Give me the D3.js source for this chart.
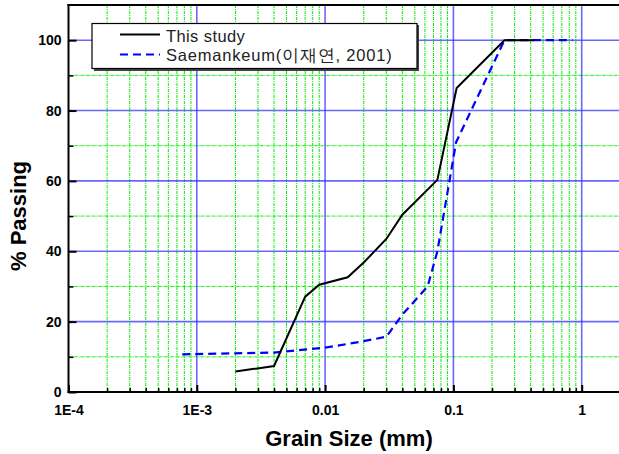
<!DOCTYPE html>
<html><head><meta charset="utf-8">
<script src="https://cdn.jsdelivr.net/npm/d3@7"></script>
<style>body{margin:0;background:#fff}svg{display:block}</style>
</head><body>
<script>
const seriesNames = ["This study", "Saemankeum(이재연, 2001)"];
const thisStudy = [
  [0.002, 5.8], [0.004, 7.4], [0.007, 27.1], [0.009, 30.5], [0.015, 32.6],
  [0.02, 36.8], [0.03, 43.5], [0.04, 50.4], [0.075, 60.3], [0.106, 86.4],
  [0.25, 100], [0.425, 100]
];
const saemankeum = [
  [0.00077, 10.7], [0.004, 11.2], [0.01, 12.6], [0.019, 14.3], [0.03, 15.7],
  [0.04, 22], [0.063, 30], [0.075, 40], [0.105, 71], [0.25, 100], [0.85, 100]
];
const xTickValues = [1e-4, 1e-3, 0.01, 0.1, 1];
const xTickLabels = ["1E-4", "1E-3", "0.01", "0.1", "1"];
const yTickValues = [0, 20, 40, 60, 80, 100];
const yMinorValues = [10, 30, 50, 70, 90];

(function () {
const W = 619, H = 454;
const svg = d3.select("body").append("svg").attr("width", W).attr("height", H);
const x = d3.scaleLog().domain([1e-4, 1]).range([68.5, 581.7]);
const y = d3.scaleLinear().domain([0, 110]).range([392, 5]);
const pL = 68.5, pR = W, pT = 5, pB = 392;

svg.append("defs").append("clipPath").attr("id", "clip")
  .append("rect").attr("x", pL).attr("y", pT).attr("width", pR - pL).attr("height", pB - pT);

const g = svg.append("g").attr("clip-path", "url(#clip)");

const xMinor = [];
for (const d of [1e-4, 1e-3, 0.01, 0.1, 1]) for (let k = 2; k <= 9; k++) xMinor.push(d * k);

const font = "'Liberation Sans', Arial, sans-serif";

g.selectAll(".gx").data(xMinor).enter().append("line")
  .attr("x1", d => x(d)).attr("x2", d => x(d)).attr("y1", pT).attr("y2", pB)
  .attr("stroke", "#00f000").attr("stroke-width", 1).attr("stroke-dasharray", "3,1,1,1");
g.selectAll(".gy").data(yMinorValues).enter().append("line")
  .attr("x1", pL).attr("x2", pR).attr("y1", d => y(d)).attr("y2", d => y(d))
  .attr("stroke", "#00f000").attr("stroke-width", 1).attr("stroke-dasharray", "3,1,1,1");

g.selectAll(".bx").data(xTickValues.slice(1)).enter().append("line")
  .attr("x1", d => x(d)).attr("x2", d => x(d)).attr("y1", pT).attr("y2", pB)
  .attr("stroke", "#2a2aff").attr("stroke-opacity", 0.7).attr("stroke-width", 1.6);
g.selectAll(".by").data(yTickValues.slice(1)).enter().append("line")
  .attr("x1", pL).attr("x2", pR).attr("y1", d => y(d)).attr("y2", d => y(d))
  .attr("stroke", "#2a2aff").attr("stroke-opacity", 0.7).attr("stroke-width", 1.6);

const line = d3.line().x(d => x(d[0])).y(d => y(d[1]));
g.append("path").datum(saemankeum).attr("d", line).attr("fill", "none")
  .attr("stroke", "#0000ff").attr("stroke-width", 2.2).attr("stroke-dasharray", "8,5");
g.append("path").datum(thisStudy).attr("d", line).attr("fill", "none")
  .attr("stroke", "#000").attr("stroke-width", 2);

const xAxis = d3.axisBottom(x).tickValues(xTickValues).tickFormat((d, i) => xTickLabels[i])
  .tickSizeInner(-7).tickSizeOuter(0).tickPadding(13);
const xa = svg.append("g").attr("transform", `translate(0,${pB})`).call(xAxis);
xa.select(".domain").remove();
xa.selectAll(".tick line").attr("stroke", "#000").attr("stroke-width", 2);
xa.selectAll(".tick text").attr("font-family", font).attr("font-weight", "bold")
  .attr("font-size", 14).attr("fill", "#000");
const xMinorAxis = d3.axisBottom(x).tickValues(xMinor.filter(d => d < 1.9)).tickFormat("")
  .tickSizeInner(-4).tickSizeOuter(0);
const xm = svg.append("g").attr("transform", `translate(0,${pB})`).call(xMinorAxis);
xm.select(".domain").remove();
xm.selectAll(".tick line").attr("stroke", "#000").attr("stroke-width", 1.5);

const yAxis = d3.axisLeft(y).tickValues(yTickValues).tickSizeInner(-8).tickSizeOuter(0).tickPadding(7);
const ya = svg.append("g").attr("transform", `translate(${pL},0)`).call(yAxis);
ya.select(".domain").remove();
ya.selectAll(".tick line").attr("stroke", "#000").attr("stroke-width", 2);
ya.selectAll(".tick text").attr("font-family", font).attr("font-weight", "bold")
  .attr("font-size", 14).attr("fill", "#000");
const yMinorAxis = d3.axisLeft(y).tickValues(yMinorValues).tickFormat("").tickSizeInner(-5).tickSizeOuter(0);
const ym = svg.append("g").attr("transform", `translate(${pL},0)`).call(yMinorAxis);
ym.select(".domain").remove();
ym.selectAll(".tick line").attr("stroke", "#000").attr("stroke-width", 1.5);

svg.append("line").attr("x1", pL).attr("x2", pL).attr("y1", pT - 1).attr("y2", pB + 1)
  .attr("stroke", "#000").attr("stroke-width", 2);
svg.append("line").attr("x1", pL - 1).attr("x2", pR).attr("y1", pB).attr("y2", pB)
  .attr("stroke", "#000").attr("stroke-width", 2);
svg.append("line").attr("x1", pL - 1).attr("x2", pR).attr("y1", pT).attr("y2", pT)
  .attr("stroke", "#000").attr("stroke-width", 2);

svg.append("text").attr("x", 349).attr("y", 446).attr("text-anchor", "middle")
  .attr("font-family", font).attr("font-weight", "bold").attr("font-size", 22).text("Grain Size (mm)");
svg.append("text").attr("transform", "translate(26,216) rotate(-90)").attr("text-anchor", "middle")
  .attr("font-family", font).attr("font-weight", "bold").attr("font-size", 22).text("% Passing");

const lg = svg.append("g");
lg.append("rect").attr("x", 94).attr("y", 25).attr("width", 325).attr("height", 46).attr("fill", "#444");
lg.append("rect").attr("x", 92).attr("y", 23.5).attr("width", 325).attr("height", 45)
  .attr("fill", "#fff").attr("stroke", "#000").attr("stroke-width", 1.2);
lg.append("line").attr("x1", 120).attr("x2", 160).attr("y1", 34.5).attr("y2", 34.5)
  .attr("stroke", "#000").attr("stroke-width", 2);
lg.append("line").attr("x1", 120).attr("x2", 160).attr("y1", 54.5).attr("y2", 54.5)
  .attr("stroke", "#0000ff").attr("stroke-width", 2.2).attr("stroke-dasharray", "8,5");
lg.append("text").attr("x", 166).attr("y", 42).attr("font-family", font).attr("font-size", 16.5)
  .attr("letter-spacing", 0.4).attr("fill", "#222").text(seriesNames[0]);
lg.append("text").attr("x", 166).attr("y", 61).attr("font-family", font).attr("font-size", 16.5)
  .attr("letter-spacing", 0.8).attr("fill", "#222").text(seriesNames[1]);
})();
</script>
</body></html>
